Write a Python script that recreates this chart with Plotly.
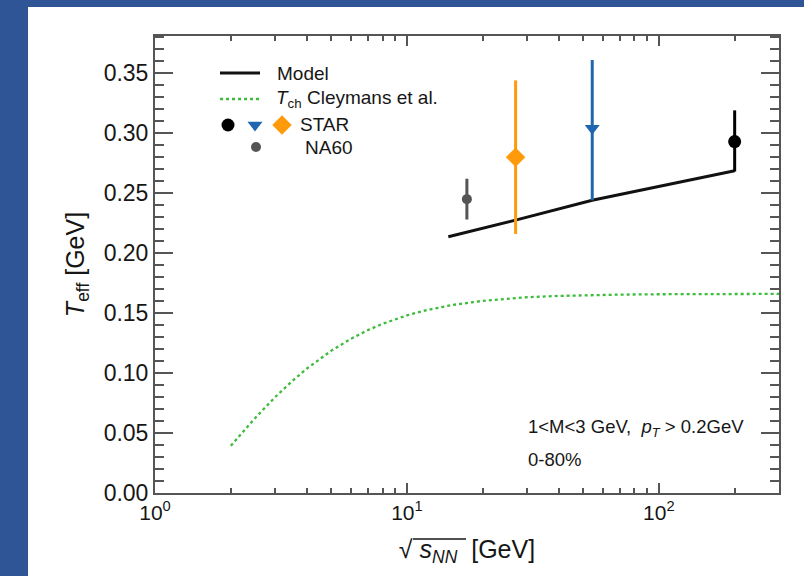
import plotly.graph_objects as go

# ---- data -----------------------------------------------------------------
# chemical freeze-out temperature (Cleymans et al.) vs collision energy
tch_sqrts = [2, 2.5, 3, 3.5, 4, 5, 6, 7, 8, 10, 12, 15, 20, 25, 30, 40, 50,
             70, 100, 150, 200, 300]
tch_temp = [0.0393, 0.0626, 0.0800, 0.0932, 0.1036, 0.1185, 0.1286, 0.1358,
            0.1410, 0.1481, 0.1525, 0.1566, 0.1602, 0.1621, 0.1632, 0.1643,
            0.1649, 0.1654, 0.1657, 0.1659, 0.1659, 0.1660]

# model effective temperature
model_sqrts = [14.6, 27, 54.4, 200]
model_teff = [0.2136, 0.2275, 0.2440, 0.2686]

# NA60
na60_sqrts = [17.3]
na60_teff = [0.245]
na60_err = [0.017]

# STAR (one entry per energy)
star_sqrts = [27, 54.4, 200]
star_teff = [0.280, 0.304, 0.293]
star_err_up = [0.064, 0.057, 0.026]
star_err_down = [0.064, 0.060, 0.025]
star_colors = ["#ff9a0a", "#1f66b0", "#000000"]
star_symbols = ["diamond", "triangle-down", "circle"]
star_sizes = [15, 13, 13]

y_ticks = [0.00, 0.05, 0.10, 0.15, 0.20, 0.25, 0.30, 0.35]
x_ticks = [1, 10, 100]
x_ticktext = ["10<sup>0</sup>", "10<sup>1</sup>", "10<sup>2</sup>"]

# ---- figure geometry -------------------------------------------------------
W, H = 804, 576
ML, MR, MT, MB = 155, 25, 36, 83
PW, PH = W - ML - MR, H - MT - MB
FONT = "Liberation Sans, Arial, Helvetica, sans-serif"
TXT = "#161616"
AXC = "#555555"
FRAME = "#2f5597"


def fx(px):
    return (px - ML) / PW


def fy(py):
    return (H - MB - py) / PH


fig = go.Figure()

fig.add_trace(go.Scatter(
    x=tch_sqrts, y=tch_temp, mode="lines",
    line=dict(color="#3dbb3d", width=2.3, dash="dot"),
    showlegend=False, hoverinfo="skip"))

fig.add_trace(go.Scatter(
    x=model_sqrts, y=model_teff, mode="lines",
    line=dict(color="#111111", width=3),
    showlegend=False))

fig.add_trace(go.Scatter(
    x=na60_sqrts, y=na60_teff, mode="markers",
    marker=dict(symbol="circle", size=10, color="#555555"),
    error_y=dict(type="data", array=na60_err, color="#555555",
                 thickness=3, width=0),
    showlegend=False))

for xs, ys, eu, ed, c, s, sz in zip(star_sqrts, star_teff, star_err_up,
                                    star_err_down, star_colors, star_symbols,
                                    star_sizes):
    fig.add_trace(go.Scatter(
        x=[xs], y=[ys], mode="markers",
        marker=dict(symbol=s, size=sz, color=c),
        error_y=dict(type="data", symmetric=False, array=[eu],
                     arrayminus=[ed], color=c, thickness=3, width=0),
        showlegend=False))

# ---- hand-built legend on an overlay 0..1 axis pair ------------------------
leg = dict(xaxis="x2", yaxis="y2", showlegend=False, hoverinfo="skip")
fig.add_trace(go.Scatter(x=[fx(220), fx(260)], y=[fy(73), fy(73)],
                         mode="lines", line=dict(color="#111111", width=3),
                         **leg))
fig.add_trace(go.Scatter(x=[fx(220), fx(260)], y=[fy(99), fy(99)],
                         mode="lines",
                         line=dict(color="#3dbb3d", width=2.3, dash="dot"),
                         **leg))
for px, c, s, sz in [(228, "#000000", "circle", 13),
                     (255, "#1f66b0", "triangle-down", 13),
                     (282, "#ff9a0a", "diamond", 15)]:
    fig.add_trace(go.Scatter(x=[fx(px)], y=[fy(125)], mode="markers",
                             marker=dict(symbol=s, size=sz, color=c), **leg))
fig.add_trace(go.Scatter(x=[fx(256)], y=[fy(147)], mode="markers",
                         marker=dict(symbol="circle", size=10,
                                     color="#555555"), **leg))

annotations = []
for px, py, text in [(275, 73, "Model"),
                     (274, 99, "<i>T</i><sub>ch</sub> Cleymans et al."),
                     (298, 125, "STAR"),
                     (303, 147, "NA60")]:
    annotations.append(dict(x=fx(px), y=fy(py), xref="paper", yref="paper",
                            text=text, showarrow=False, xanchor="left",
                            yanchor="middle",
                            font=dict(family=FONT, size=19, color=TXT)))

annotations.append(dict(
    x=fx(526), y=fy(428), xref="paper", yref="paper",
    text="1<M<3 GeV,  <i>p</i><sub><i>T</i></sub> > 0.2GeV",
    showarrow=False, xanchor="left", yanchor="middle",
    font=dict(family=FONT, size=18.5, color=TXT)))
annotations.append(dict(
    x=fx(526), y=fy(459), xref="paper", yref="paper", text="0-80%",
    showarrow=False, xanchor="left", yanchor="middle",
    font=dict(family=FONT, size=18.5, color=TXT)))

# blue frame around the page
shapes = [
    dict(type="rect", xref="paper", yref="paper", layer="below",
         x0=fx(0), x1=fx(28), y0=fy(H), y1=fy(0),
         fillcolor=FRAME, line=dict(width=0)),
    dict(type="rect", xref="paper", yref="paper", layer="below",
         x0=fx(0), x1=fx(W), y0=fy(7), y1=fy(0),
         fillcolor=FRAME, line=dict(width=0)),
    # bar of the square-root sign in the x title
    dict(type="line", xref="paper", yref="paper",
         x0=fx(413), x1=fx(466), y0=fy(539), y1=fy(539),
         line=dict(color=TXT, width=1.6)),
]

minor_x = [m * d for d in (1, 10, 100) for m in range(2, 10) if m * d <= 300]

fig.update_layout(
    width=W, height=H,
    margin=dict(l=ML, r=MR, t=MT, b=MB),
    paper_bgcolor="white", plot_bgcolor="white",
    font=dict(family=FONT, color=TXT),
    annotations=annotations, shapes=shapes,
    xaxis=dict(
        type="log", range=[0, 2.477],
        tickmode="array", tickvals=x_ticks, ticktext=x_ticktext,
        ticks="inside", ticklen=10, tickwidth=2, tickcolor=AXC,
        minor=dict(tickmode="array", tickvals=minor_x, ticks="inside",
                   ticklen=5, tickwidth=2, tickcolor=AXC),
        showline=True, linecolor=AXC, linewidth=2, mirror="ticks",
        showgrid=False, zeroline=False,
        tickfont=dict(family=FONT, size=21, color=TXT),
        title=dict(text="√ <i>s</i><sub><i>NN</i></sub>  [GeV]",
                   font=dict(family=FONT, size=25, color=TXT), standoff=17),
    ),
    yaxis=dict(
        range=[0, 0.381],
        tickmode="array", tickvals=y_ticks, tickformat=".2f",
        ticks="inside", ticklen=18, tickwidth=2, tickcolor=AXC,
        minor=dict(dtick=0.01, ticks="inside", ticklen=9, tickwidth=2,
                   tickcolor=AXC),
        showline=True, linecolor=AXC, linewidth=2, mirror="ticks",
        showgrid=False, zeroline=False,
        tickfont=dict(family=FONT, size=23, color=TXT),
        title=dict(text="<i>T</i><sub>eff</sub> [GeV]",
                   font=dict(family=FONT, size=25, color=TXT), standoff=12),
    ),
    xaxis2=dict(overlaying="x", range=[0, 1], visible=False, fixedrange=True),
    yaxis2=dict(overlaying="y", range=[0, 1], visible=False, fixedrange=True),
)

fig.write_html("out.html")
